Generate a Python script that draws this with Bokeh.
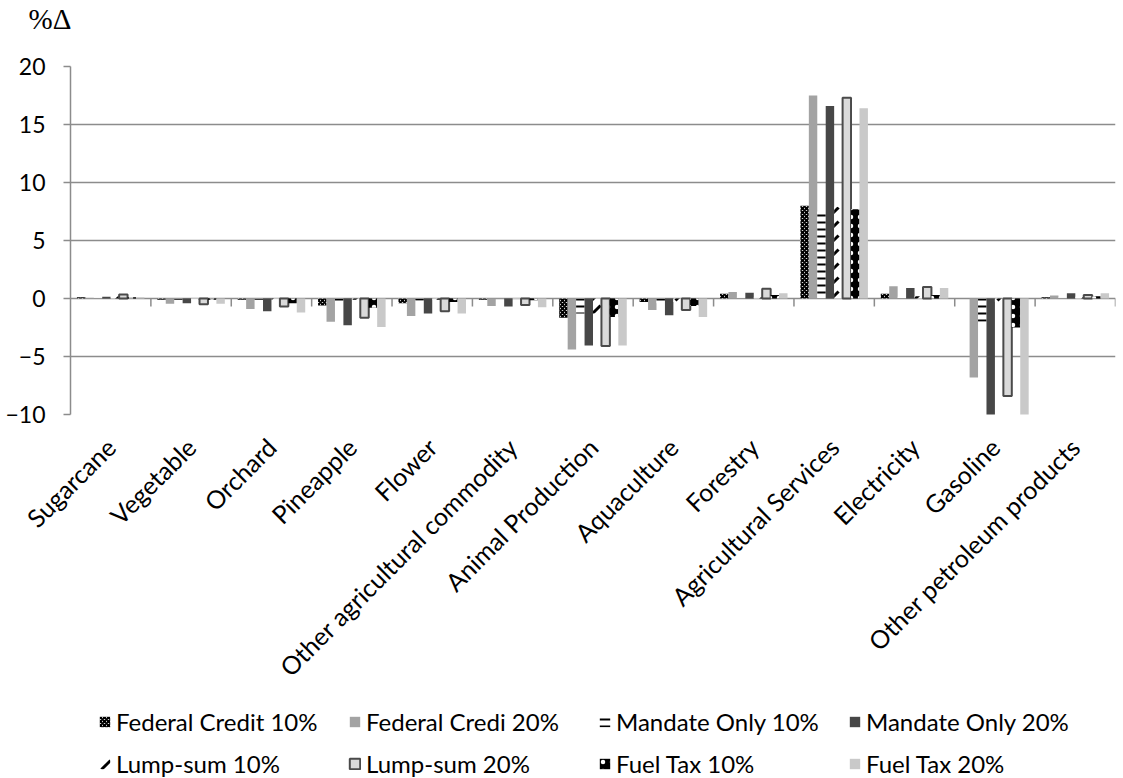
import numpy as np
from bokeh.plotting import figure
from bokeh.layouts import column
from bokeh.models import Range1d, FixedTicker, Legend, LegendItem
from bokeh.embed import file_html
from bokeh.resources import INLINE

# Sectors on the category axis
categories = [
    "Sugarcane", "Vegetable", "Orchard", "Pineapple", "Flower",
    "Other agricultural commodity", "Animal Production", "Aquaculture",
    "Forestry", "Agricultural Services", "Electricity", "Gasoline",
    "Other petroleum products",
]

# Percentage change in sector output under each policy scenario
federal_credit_10 = [0.1, -0.1, -0.1, -0.6, -0.4, -0.1, -1.65, -0.3, 0.4, 8.0, 0.4, 0.0, 0.1]
federal_credit_20 = [0.05, -0.45, -0.9, -2.0, -1.5, -0.65, -4.4, -1.0, 0.55, 17.5, 1.05, -6.8, 0.25]
mandate_only_10 = [0.1, -0.1, -0.1, -0.4, -0.2, -0.05, -1.3, -0.4, 0.1, 7.5, 0.15, -2.0, 0.1]
mandate_only_20 = [0.15, -0.4, -1.1, -2.3, -1.3, -0.7, -4.05, -1.45, 0.5, 16.6, 0.9, -10.5, 0.45]
lump_sum_10 = [0.2, -0.1, -0.1, -0.1, -0.1, -0.05, -1.3, -0.3, 0.1, 7.9, 0.2, -0.3, 0.15]
lump_sum_20 = [0.35, -0.5, -0.7, -1.65, -1.1, -0.55, -4.1, -1.0, 0.85, 17.3, 1.0, -8.4, 0.3]
fuel_tax_10 = [0.1, -0.1, -0.4, -0.8, -0.3, -0.15, -1.6, -0.65, 0.3, 7.7, 0.3, -2.5, 0.2]
fuel_tax_20 = [0.1, -0.45, -1.2, -2.45, -1.3, -0.75, -4.05, -1.6, 0.45, 16.4, 0.9, -10.5, 0.45]

series_labels = [
    "Federal Credit 10%", "Federal Credi 20%", "Mandate Only 10%", "Mandate Only 20%",
    "Lump-sum 10%", "Lump-sum 20%", "Fuel Tax 10%", "Fuel Tax 20%",
]
y_ticks = [-10, -5, 0, 5, 10, 15, 20]

series_values = [
    federal_credit_10, federal_credit_20, mandate_only_10, mandate_only_20,
    lump_sum_10, lump_sum_20, fuel_tax_10, fuel_tax_20,
]

# Fill / hatch style for each scenario
styles = [
    dict(fill_color="white", line_color=None, hatch_pattern="diagonal_cross",
         hatch_color="black", hatch_scale=4, hatch_weight=2),
    dict(fill_color="#a3a3a3", line_color=None),
    dict(fill_color="white", line_color=None, hatch_pattern="horizontal_line",
         hatch_color="black", hatch_scale=7, hatch_weight=2),
    dict(fill_color="#474747", line_color=None),
    dict(fill_color="white", line_color=None, hatch_pattern="right_diagonal_dash",
         hatch_color="black", hatch_scale=14, hatch_weight=3),
    dict(fill_color="#dadada", line_color="#4a4a4a", line_width=2),
    dict(fill_color="black", line_color=None, hatch_pattern="dot",
         hatch_color="white", hatch_scale=9, hatch_weight=1),
    dict(fill_color="#c9c9c9", line_color=None),
]

FONT = "Lato"
GRID = "#8c8c8c"
W = 1123

n_cat = len(categories)
centers = np.arange(n_cat) + 0.5
bar_w = 0.105


def bare(fig):
    fig.outline_line_color = None
    fig.xgrid.visible = False
    fig.ygrid.visible = False
    fig.background_fill_color = "white"
    fig.border_fill_color = "white"


# ---- unit marker strip above the chart ----
head = figure(
    width=W, height=50, output_backend="svg", toolbar_location=None,
    x_range=Range1d(0, 1), y_range=Range1d(0, 1),
    x_axis_location=None, y_axis_location=None,
    min_border=0, min_border_top=3, title="%\u0394",
)
bare(head)
head.title.text_font = "Liberation Serif"
head.title.text_font_size = "29px"
head.title.text_font_style = "normal"
head.title.text_color = "black"
head.title.align = "left"
head.title.offset = -42
head.title.standoff = 0

# ---- main chart ----
p = figure(
    width=W, height=650, output_backend="svg", toolbar_location=None,
    x_range=Range1d(0, n_cat), y_range=Range1d(y_ticks[0], y_ticks[-1]),
    min_border_left=70, min_border_right=8, min_border_top=16, min_border_bottom=286,
)
p.outline_line_color = None
p.background_fill_color = "white"
p.border_fill_color = "white"

# y axis
p.yaxis.ticker = FixedTicker(ticks=y_ticks)
p.yaxis.axis_line_color = GRID
p.yaxis.axis_line_width = 1.5
p.yaxis.major_tick_line_color = GRID
p.yaxis.major_tick_line_width = 1.5
p.yaxis.major_tick_out = 7
p.yaxis.major_tick_in = 0
p.yaxis.minor_tick_line_color = None
p.yaxis.major_label_text_font = FONT
p.yaxis.major_label_text_font_size = "23px"
p.yaxis.major_label_text_color = "black"
p.yaxis.major_label_standoff = 18

p.ygrid.ticker = FixedTicker(ticks=y_ticks)
p.ygrid.grid_line_color = GRID
p.ygrid.grid_line_width = 1.5
p.xgrid.visible = False

# x axis: category names at slot centres, slanted
p.xaxis.ticker = FixedTicker(ticks=list(centers))
p.xaxis.major_label_overrides = {float(c): name for c, name in zip(centers, categories)}
p.xaxis.major_label_orientation = np.pi / 4
p.xaxis.axis_line_color = None
p.xaxis.major_tick_line_color = None
p.xaxis.minor_tick_line_color = None
p.xaxis.major_label_text_font = FONT
p.xaxis.major_label_text_font_size = "25px"
p.xaxis.major_label_text_color = "black"
p.xaxis.major_label_standoff = 22

# short tick marks on the zero line between categories
bounds = np.arange(1, n_cat + 1)
p.segment(x0=bounds, x1=bounds, y0=0, y1=-0.7, line_color=GRID, line_width=1.5)

for i, (vals, st) in enumerate(zip(series_values, styles)):
    offset = (i - 3.5) * bar_w
    p.vbar(x=centers + offset, top=vals, bottom=0, width=bar_w, **st)

# ---- legend strip under the chart ----
# The same series as hidden renderers: only their legend swatches are drawn.
leg = figure(
    width=W, height=78, output_backend="svg", toolbar_location=None,
    x_range=Range1d(0, n_cat), y_range=Range1d(y_ticks[0], y_ticks[-1]),
    x_axis_location=None, y_axis_location=None,
    min_border=0,
)
bare(leg)

swatches = []
for i, (vals, st) in enumerate(zip(series_values, styles)):
    offset = (i - 3.5) * bar_w
    r = leg.vbar(x=centers + offset, top=vals, bottom=0, width=bar_w, **st)
    r.visible = False
    swatches.append(r)

legend = Legend(
    items=[LegendItem(label=lab, renderers=[r]) for lab, r in zip(series_labels, swatches)],
    orientation="horizontal", ncols=4,
    location=(28, 0),
    glyph_width=13, glyph_height=13, label_standoff=5, label_width=219, label_height=24,
    spacing=13, padding=0, margin=0,
    border_line_color=None, background_fill_alpha=0,
    inactive_fill_alpha=0,
    label_text_font=FONT, label_text_font_size="24px", label_text_color="black",
)
leg.add_layout(legend)

open("out.html", "w").write(file_html(column(head, p, leg, spacing=0), INLINE))
